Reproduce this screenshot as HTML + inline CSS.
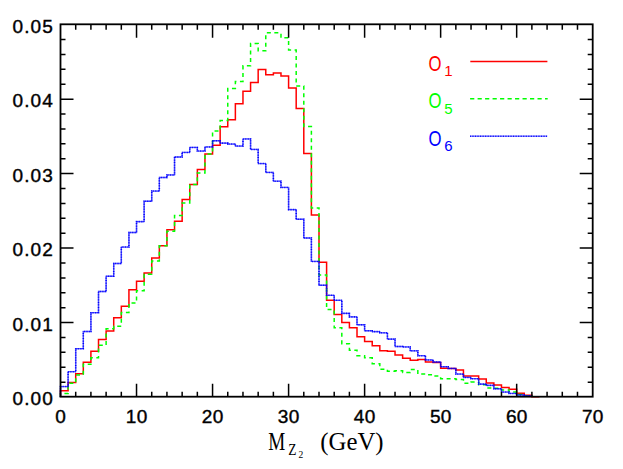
<!DOCTYPE html>
<html><head><meta charset="utf-8"><title>M_Z2 distribution</title>
<style>
html,body{margin:0;padding:0;background:#fff;}
body{width:623px;height:469px;overflow:hidden;font-family:"Liberation Sans",sans-serif;}
svg{display:block;}
</style></head><body>
<svg width="623" height="469" viewBox="0 0 623 469">
<rect x="0" y="0" width="623" height="469" fill="#fff"/>
<g fill="none" stroke-linejoin="miter" stroke-linecap="butt" transform="translate(0 0.3)">
<path d="M60.50 396.70V390.44H68.10V382.10H75.71V373.39H83.31V362.07H90.91V350.89H98.51V339.20H106.12V330.79H113.72V317.38H121.32V306.06H128.93V289.37H136.53V281.03H144.13V272.62H151.73V257.65H159.34V245.51H166.94V229.34H174.54V220.85H182.15V199.10H189.75V184.28H197.35V169.16H204.95V153.75H212.56V144.96H220.16V126.56H227.76V119.56H235.37V103.55H242.97V90.96H250.57V82.25H258.17V69.21H265.78V74.43H273.38V72.71H280.98V75.62H288.59V87.76H296.19V108.16H303.79V153.30H311.39V214.82H319.00V261.89H326.60V300.02H334.20V314.25H341.81V322.22H349.41V327.43H357.01V336.37H364.61V341.14H372.22V345.53H379.82V350.52H387.42V350.89H395.03V354.69H402.63V358.04H410.23V360.06H417.83V359.24H425.44V361.69H433.04V362.22H440.64V367.88H448.25V368.10H455.85V369.59H463.45V375.62H471.05V375.62H478.66V378.75H486.26V382.62H493.86V384.78H501.47V387.32H509.07V388.95H516.67V392.98H524.27V394.91H531.88V396.33H539.48V396.70" stroke="#ff0000" stroke-width="1.5"/>
<path d="M60.50 396.70V393.12H68.10V383.07H75.71V374.73H83.31V363.93H90.91V357.52H98.51V345.01H106.12V328.33H113.72V325.94H121.32V312.09H128.93V302.71H136.53V290.34H144.13V273.96H151.73V260.63H159.34V245.51H166.94V230.98H174.54V215.12H182.15V202.61H189.75V184.28H197.35V172.66H204.95V153.75H212.56V130.73H220.16V120.23H227.76V88.13H235.37V81.13H242.97V65.56H250.57V43.29H258.17V50.52H265.78V32.49H273.38V32.49H280.98V37.48H288.59V49.70H296.19V85.60H303.79V126.26H311.39V207.60H319.00V274.63H326.60V309.26H334.20V327.43H341.81V343.37H349.41V350.00H357.01V355.36H364.61V357.52H372.22V363.41H379.82V368.92H387.42V370.93H395.03V370.56H402.63V372.27H410.23V369.22H417.83V373.76H425.44V374.43H433.04V375.62H440.64V378.38H448.25V378.38H455.85V379.27H463.45V383.07H471.05V381.80H478.66V384.56H486.26V387.61H493.86V388.06H501.47V389.77H509.07V391.78H516.67V394.09H524.27V395.58H531.88V396.70" stroke="#00ff00" stroke-width="1.5" stroke-dasharray="4 3.5"/>
<path d="M60.50 396.70V386.27H68.10V371.38H75.71V348.36H83.31V331.16H90.91V312.39H98.51V291.16H106.12V275.97H113.72V263.16H121.32V246.77H128.93V232.17H136.53V221.30H144.13V200.97H151.73V190.76H159.34V177.21H166.94V174.60H174.54V156.65H182.15V152.11H189.75V147.12H197.35V150.77H204.95V146.60H212.56V140.49H220.16V142.80H227.76V143.77H235.37V145.78H242.97V138.63H250.57V149.13H258.17V163.28H265.78V172.14H273.38V180.86H280.98V187.11H288.59V209.31H296.19V218.99H303.79V237.69H311.39V261.15H319.00V284.98H326.60V295.03H334.20V300.02H341.81V313.06H349.41V316.56H357.01V324.45H364.61V330.49H372.22V331.31H379.82V332.50H387.42V338.83H395.03V346.20H402.63V346.65H410.23V350.52H417.83V355.36H425.44V359.61H433.04V361.69H440.64V366.39H448.25V368.10H455.85V373.76H463.45V377.11H471.05V378.38H478.66V383.81H486.26V385.08H493.86V388.43H501.47V391.78H509.07V393.12H516.67V394.69H524.27V395.58H531.88V396.70" stroke="#0000ff" stroke-width="1.35" stroke-opacity="0.55"/>
<path d="M60.50 396.70V386.27H68.10V371.38H75.71V348.36H83.31V331.16H90.91V312.39H98.51V291.16H106.12V275.97H113.72V263.16H121.32V246.77H128.93V232.17H136.53V221.30H144.13V200.97H151.73V190.76H159.34V177.21H166.94V174.60H174.54V156.65H182.15V152.11H189.75V147.12H197.35V150.77H204.95V146.60H212.56V140.49H220.16V142.80H227.76V143.77H235.37V145.78H242.97V138.63H250.57V149.13H258.17V163.28H265.78V172.14H273.38V180.86H280.98V187.11H288.59V209.31H296.19V218.99H303.79V237.69H311.39V261.15H319.00V284.98H326.60V295.03H334.20V300.02H341.81V313.06H349.41V316.56H357.01V324.45H364.61V330.49H372.22V331.31H379.82V332.50H387.42V338.83H395.03V346.20H402.63V346.65H410.23V350.52H417.83V355.36H425.44V359.61H433.04V361.69H440.64V366.39H448.25V368.10H455.85V373.76H463.45V377.11H471.05V378.38H478.66V383.81H486.26V385.08H493.86V388.43H501.47V391.78H509.07V393.12H516.67V394.69H524.27V395.58H531.88V396.70" stroke="#0000ff" stroke-width="1.55" stroke-dasharray="0.9 0.75"/>
</g>
<g fill="none" stroke="#000">
<path d="M75.71 396.70v-5.00M75.71 24.30v5.50M90.91 396.70v-5.00M90.91 24.30v5.50M106.12 396.70v-5.00M106.12 24.30v5.50M121.32 396.70v-5.00M121.32 24.30v5.50M136.53 396.70v-13.00M136.53 24.30v13.50M151.73 396.70v-5.00M151.73 24.30v5.50M166.94 396.70v-5.00M166.94 24.30v5.50M182.15 396.70v-5.00M182.15 24.30v5.50M197.35 396.70v-5.00M197.35 24.30v5.50M212.56 396.70v-13.00M212.56 24.30v13.50M227.76 396.70v-5.00M227.76 24.30v5.50M242.97 396.70v-5.00M242.97 24.30v5.50M258.17 396.70v-5.00M258.17 24.30v5.50M273.38 396.70v-5.00M273.38 24.30v5.50M288.59 396.70v-13.00M288.59 24.30v13.50M303.79 396.70v-5.00M303.79 24.30v5.50M319.00 396.70v-5.00M319.00 24.30v5.50M334.20 396.70v-5.00M334.20 24.30v5.50M349.41 396.70v-5.00M349.41 24.30v5.50M364.61 396.70v-13.00M364.61 24.30v13.50M379.82 396.70v-5.00M379.82 24.30v5.50M395.03 396.70v-5.00M395.03 24.30v5.50M410.23 396.70v-5.00M410.23 24.30v5.50M425.44 396.70v-5.00M425.44 24.30v5.50M440.64 396.70v-13.00M440.64 24.30v13.50M455.85 396.70v-5.00M455.85 24.30v5.50M471.05 396.70v-5.00M471.05 24.30v5.50M486.26 396.70v-5.00M486.26 24.30v5.50M501.47 396.70v-5.00M501.47 24.30v5.50M516.67 396.70v-13.00M516.67 24.30v13.50M531.88 396.70v-5.00M531.88 24.30v5.50M547.08 396.70v-5.00M547.08 24.30v5.50M562.29 396.70v-5.00M562.29 24.30v5.50M577.49 396.70v-5.00M577.49 24.30v5.50M60.50 382.15h5.00M592.70 382.15h-5.00M60.50 367.26h5.00M592.70 367.26h-5.00M60.50 352.36h5.00M592.70 352.36h-5.00M60.50 337.47h5.00M592.70 337.47h-5.00M60.50 322.57h13.00M592.70 322.57h-13.00M60.50 307.67h5.00M592.70 307.67h-5.00M60.50 292.78h5.00M592.70 292.78h-5.00M60.50 277.88h5.00M592.70 277.88h-5.00M60.50 262.99h5.00M592.70 262.99h-5.00M60.50 248.09h13.00M592.70 248.09h-13.00M60.50 233.19h5.00M592.70 233.19h-5.00M60.50 218.30h5.00M592.70 218.30h-5.00M60.50 203.40h5.00M592.70 203.40h-5.00M60.50 188.51h5.00M592.70 188.51h-5.00M60.50 173.61h13.00M592.70 173.61h-13.00M60.50 158.71h5.00M592.70 158.71h-5.00M60.50 143.82h5.00M592.70 143.82h-5.00M60.50 128.92h5.00M592.70 128.92h-5.00M60.50 114.03h5.00M592.70 114.03h-5.00M60.50 99.13h13.00M592.70 99.13h-13.00M60.50 84.23h5.00M592.70 84.23h-5.00M60.50 69.34h5.00M592.70 69.34h-5.00M60.50 54.44h5.00M592.70 54.44h-5.00M60.50 39.55h5.00M592.70 39.55h-5.00" stroke-width="1.5"/>
<rect x="60.5" y="24.3" width="532.20" height="372.40" stroke-width="1.8"/>
</g>
<g font-family="'Liberation Sans', sans-serif" font-size="19" fill="#000" stroke="#000" stroke-width="0.4" text-anchor="middle">
<text x="60.5" y="422.5">0</text>
<text x="136.53" y="422.5" textLength="21.5" lengthAdjust="spacing">10</text>
<text x="212.56" y="422.5" textLength="21.5" lengthAdjust="spacing">20</text>
<text x="288.59" y="422.5" textLength="21.5" lengthAdjust="spacing">30</text>
<text x="364.61" y="422.5" textLength="21.5" lengthAdjust="spacing">40</text>
<text x="440.64" y="422.5" textLength="21.5" lengthAdjust="spacing">50</text>
<text x="516.67" y="422.5" textLength="21.5" lengthAdjust="spacing">60</text>
<text x="592.7" y="422.5" textLength="21.5" lengthAdjust="spacing">70</text>
</g>
<g font-family="'Liberation Sans', sans-serif" font-size="19" fill="#000" stroke="#000" stroke-width="0.4" text-anchor="start">
<text x="12.6" y="405" textLength="40.2" lengthAdjust="spacing">0.00</text>
<text x="12.6" y="330.52" textLength="40.2" lengthAdjust="spacing">0.01</text>
<text x="12.6" y="256.04" textLength="40.2" lengthAdjust="spacing">0.02</text>
<text x="12.6" y="181.56" textLength="40.2" lengthAdjust="spacing">0.03</text>
<text x="12.6" y="107.08" textLength="40.2" lengthAdjust="spacing">0.04</text>
<text x="12.6" y="32.6" textLength="40.2" lengthAdjust="spacing">0.05</text>
</g>
<!-- legend -->
<g font-family="'Liberation Sans', sans-serif" text-anchor="start">
<text x="428.4" y="70.9" font-size="22" fill="#ff0000" textLength="13" lengthAdjust="spacingAndGlyphs">O</text>
<text x="444.2" y="76.2" font-size="15" fill="#ff0000">1</text>
<text x="428.4" y="108.4" font-size="22" fill="#00ff00" textLength="13" lengthAdjust="spacingAndGlyphs">O</text>
<text x="444.2" y="113.7" font-size="15" fill="#00ff00">5</text>
<text x="428.4" y="145.8" font-size="22" fill="#0000ff" textLength="13" lengthAdjust="spacingAndGlyphs">O</text>
<text x="444.2" y="150.8" font-size="15" fill="#0000ff">6</text>
</g>
<g fill="none" stroke-width="1.5">
<path d="M470.3 61.5H547.4" stroke="#ff0000"/>
<path d="M470.1 98.8H547.7" stroke="#00ff00" stroke-dasharray="4.2 3.29"/>
<path d="M470.1 136.2H547.4" stroke="#0000ff" stroke-width="1.3" stroke-opacity="0.4"/>
<path d="M470.1 136.2H547.4" stroke="#0000ff" stroke-width="1.55" stroke-dasharray="0.9 0.75"/>
</g>
<!-- axis title -->
<g font-family="'Liberation Serif', serif" fill="#000" text-anchor="start">
<text x="268.2" y="449.5" font-size="25" textLength="17" lengthAdjust="spacingAndGlyphs">M</text>
<text x="288.2" y="455.3" font-size="17" textLength="8.2" lengthAdjust="spacingAndGlyphs">Z</text>
<text x="298.6" y="458.4" font-size="9.5">2</text>
<text x="320.3" y="449.5" font-size="25" textLength="63.3" lengthAdjust="spacingAndGlyphs">(GeV)</text>
</g>
</svg>
</body></html>
